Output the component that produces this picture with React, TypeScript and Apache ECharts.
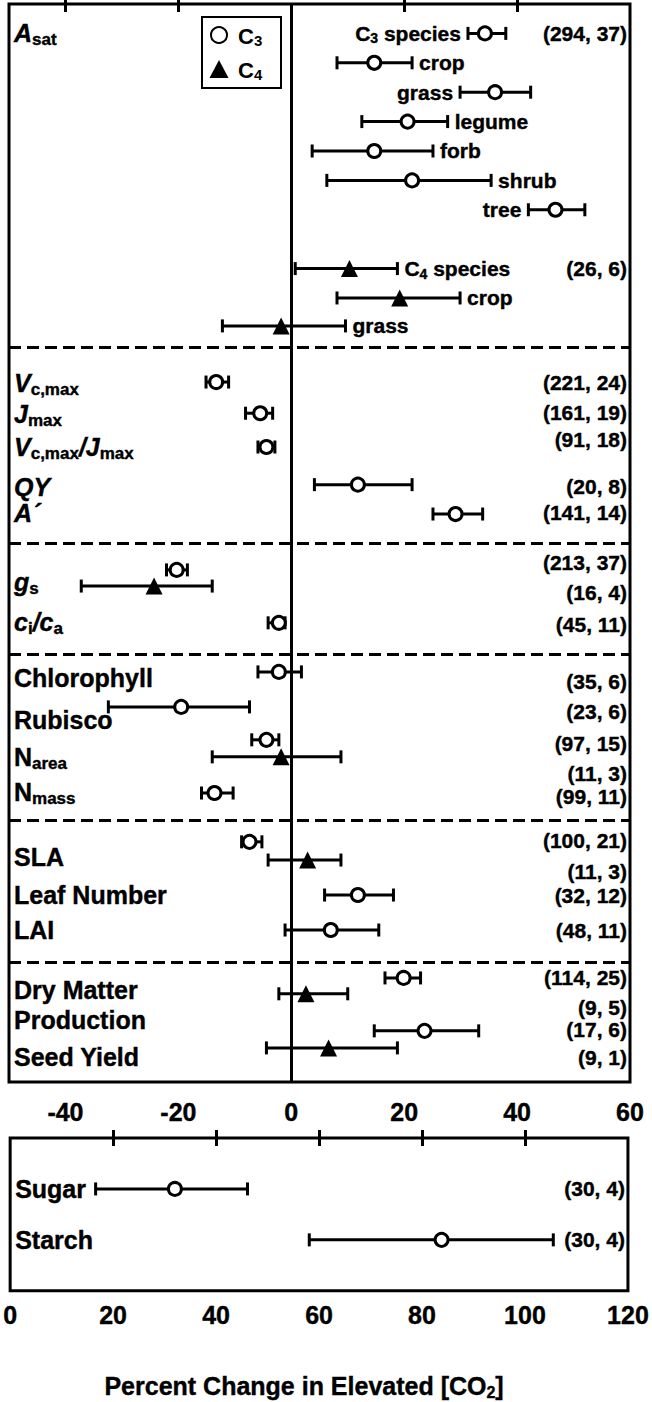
import React, { useEffect, useRef } from 'react';
import * as echarts from 'echarts';

const FONT = '"Liberation Sans", Arial, Helvetica, sans-serif';

// ---------- Top panel (x: percent change, y: row slot) ----------
const topPathway = ['C3','C3','C3','C3','C3','C3','C3','C4','C4','C4',
  'C3','C3','C3','C3','C3','C3','C4','C3','C3','C3','C3','C4','C3','C3','C4','C3','C3','C3','C4','C3','C4'];
const topMeans = [34.3, 14.7, 36.1, 20.6, 14.7, 21.4, 46.8, 10.3, 19.2, -1.8,
  -13.3, -5.5, -4.4, 11.8, 29.1, -20.3, -24.3, -2.2, -2.2, -19.5, -4.4, -1.8, -13.6,
  -7.4, 2.9, 11.8, 7.0, 19.9, 2.6, 23.6, 6.6];
const topLows = [31.3, 8.1, 29.9, 12.5, 3.7, 6.3, 42.0, 0.7, 8.1, -12.2,
  -15.1, -8.1, -5.9, 4.1, 25.1, -22.1, -37.2, -4.1, -5.9, -32.4, -7.0, -14.0, -15.9,
  -8.8, -4.1, 5.9, -1.1, 16.6, -2.2, 14.7, -4.4];
const topHighs = [38.0, 21.4, 42.4, 27.7, 25.1, 35.4, 52.0, 18.8, 29.9, 9.6,
  -11.1, -3.3, -2.9, 21.4, 33.9, -18.4, -14.0, -1.1, 1.8, -7.4, -2.2, 8.8, -10.3,
  -5.2, 8.8, 18.1, 15.5, 22.9, 10.0, 33.2, 18.8];
const topRows = [1, 2, 3, 4, 5, 6, 7, 9, 10, 10.95,
  12.86, 13.92, 15.07, 16.35, 17.35, 19.25, 19.8, 21.05, 22.72, 23.91, 25.03, 25.61, 26.84,
  28.5, 29.12, 30.31, 31.5, 33.13, 33.67, 34.93, 35.51];
const TOP_ROW_MAX = 36.67;

// inline group labels of the A_sat block (index into the arrays above)
const inlineIndex = [0, 1, 2, 3, 4, 5, 6, 7, 8, 9];
const inlineText = ['{n|C}{b|3}{n| species}', 'crop', 'grass', 'legume', 'forb', 'shrub', 'tree',
  '{n|C}{b|4}{n| species}', 'crop', 'grass'];
const inlineSide = ['left', 'right', 'left', 'right', 'right', 'right', 'left', 'right', 'right', 'right'];

// (n observations, n studies) labels on the right
const countText = ['(294, 37)', '(26, 6)', '(221, 24)', '(161, 19)', '(91, 18)', '(20, 8)', '(141, 14)',
  '(213, 37)', '(16, 4)', '(45, 11)', '(35, 6)', '(23, 6)', '(97, 15)', '(11, 3)', '(99, 11)',
  '(100, 21)', '(11, 3)', '(32, 12)', '(48, 11)', '(114, 25)', '(9, 5)', '(17, 6)', '(9, 1)'];
const countRow = [1, 9, 12.86, 13.88, 14.83, 16.4, 17.31, 19.01, 20.03, 21.12, 23.06, 24.08, 25.14,
  26.16, 26.97, 28.44, 29.52, 30.31, 31.5, 33.1, 34.12, 34.9, 35.82];

// variable labels on the left
const leftText = ['{i|A}{s|sat}', '{i|V}{s|c,max}', '{i|J}{s|max}', '{i|V}{s|c,max}{i|/J}{s|max}',
  '{i|QY}', '{i|A´}', '{i|g}{s|s}', '{i|c}{s|i}{i|/c}{s|a}', 'Chlorophyll', 'Rubisco',
  '{t|N}{s|area}', '{t|N}{s|mass}', 'SLA', 'Leaf Number', 'LAI', 'Dry Matter', 'Production', 'Seed Yield'];
const leftRow = [1.0, 12.9, 13.95, 15.07, 16.43, 17.31, 19.66, 21.02, 22.93, 24.35, 25.6, 26.8,
  29.0, 30.31, 31.5, 33.54, 34.56, 35.82];

// dashed section separators
const separatorRows = [11.67, 18.33, 22.11, 27.76, 32.59];

const topTickValues = [-40, -20, 20, 40];
const topLabelValues = [-40, -20, 0, 20, 40, 60];

// ---------- Bottom panel ----------
const bottomNames = ['Sugar', 'Starch'];
const bottomMeans = [32.0, 83.8];
const bottomLows = [16.6, 58.1];
const bottomHighs = [46.1, 105.5];
const bottomRows = [1, 2];
const bottomCounts = ['(30, 4)', '(30, 4)'];
const bottomTickValues = [20, 40, 60, 80, 100];

const CAP = 6.5;
const errorBarRender = (params: any, api: any) => {
  const y = api.value(3);
  const lo = api.coord([api.value(1), y]);
  const hi = api.coord([api.value(2), y]);
  const st = { stroke: '#000', lineWidth: 3 };
  return {
    type: 'group',
    children: [
      { type: 'line', shape: { x1: lo[0], y1: lo[1], x2: hi[0], y2: hi[1] }, style: st },
      { type: 'line', shape: { x1: lo[0], y1: lo[1] - CAP, x2: lo[0], y2: lo[1] + CAP }, style: st },
      { type: 'line', shape: { x1: hi[0], y1: hi[1] - CAP, x2: hi[0], y2: hi[1] + CAP }, style: st },
    ],
  };
};

const TB = { textBorderColor: '#000', textBorderWidth: 0.4 };
const leftRich = {
  i: { fontStyle: 'italic', fontWeight: 'bold', fontSize: 25, fontFamily: FONT, color: '#000', lineHeight: 30, ...TB },
  t: { fontWeight: 'bold', fontSize: 25, fontFamily: FONT, color: '#000', lineHeight: 30, ...TB },
  s: { fontWeight: 'bold', fontSize: 17, fontFamily: FONT, color: '#000', verticalAlign: 'bottom', lineHeight: 16, ...TB },
};
const inlineRich = {
  n: { fontWeight: 'bold', fontSize: 21, fontFamily: FONT, color: '#000', lineHeight: 24, ...TB },
  b: { fontWeight: 'bold', fontSize: 14, fontFamily: FONT, color: '#000', verticalAlign: 'bottom', lineHeight: 12, ...TB },
};
const legendRich = {
  n: { fontWeight: 'bold', fontSize: 22, fontFamily: FONT, fill: '#000', lineHeight: 24 },
  b: { fontWeight: 'bold', fontSize: 15, fontFamily: FONT, fill: '#000', verticalAlign: 'bottom', lineHeight: 12 },
};

export default function App() {
  const ref = useRef<HTMLDivElement>(null);
  useEffect(() => {
    const chart = echarts.init(ref.current!, null, { renderer: 'svg' });

    const topAll = topMeans.map((m, i) => [m, topLows[i], topHighs[i], topRows[i]]);
    const c3Pts = topMeans.map((m, i) => [m, topRows[i]]).filter((_, i) => topPathway[i] === 'C3');
    const c4Pts = topMeans.map((m, i) => [m, topRows[i]]).filter((_, i) => topPathway[i] === 'C4');

    const inlineData = inlineIndex.map((idx, k) => ({
      value: [inlineSide[k] === 'left' ? topLows[idx] : topHighs[idx], topRows[idx]],
      label: { position: inlineSide[k], formatter: inlineText[k] },
    }));

    const labelBase = { fontFamily: FONT, fontWeight: 'bold', color: '#000', ...TB };
    const solid = { opacity: 1 };

    const option: any = {
      animation: false,
      grid: [
        { left: 9, right: 22, top: 4, height: 1078, show: true, borderColor: '#000', borderWidth: 3, backgroundColor: 'transparent' },
        { left: 9, right: 22, top: 1138, height: 155, show: true, borderColor: '#000', borderWidth: 3, backgroundColor: 'transparent' },
      ],
      xAxis: [
        {
          gridIndex: 0, type: 'value', min: -50, max: 60, position: 'bottom',
          axisLine: { show: false }, splitLine: { show: false },
          axisTick: { show: true, inside: true, length: 8, customValues: topTickValues, lineStyle: { color: '#000', width: 3 } },
          axisLabel: { show: true, customValues: topLabelValues, margin: 17, fontSize: 25, ...labelBase },
        },
        {
          gridIndex: 0, type: 'value', min: -50, max: 60, position: 'top',
          axisLine: { show: false }, splitLine: { show: false },
          axisTick: { show: true, inside: true, length: 8, customValues: topTickValues, lineStyle: { color: '#000', width: 3 } },
          axisLabel: { show: false },
        },
        {
          gridIndex: 1, type: 'value', min: 0, max: 120, interval: 20, position: 'bottom',
          axisLine: { show: false }, splitLine: { show: false },
          axisTick: { show: true, inside: true, length: 8, customValues: bottomTickValues, lineStyle: { color: '#000', width: 3 } },
          axisLabel: { show: true, margin: 12, fontSize: 25, ...labelBase },
          name: '{n|Percent Change in Elevated [CO}{b|2}{n|]}',
          nameLocation: 'middle', nameGap: 80,
          nameTextStyle: {
            padding: [0, 30, 0, 0],
            rich: {
              n: { fontWeight: 'bold', fontSize: 25, fontFamily: FONT, color: '#000', lineHeight: 30, ...TB },
              b: { fontWeight: 'bold', fontSize: 16, fontFamily: FONT, color: '#000', verticalAlign: 'bottom', lineHeight: 16, ...TB },
            },
          },
        },
        {
          gridIndex: 1, type: 'value', min: 0, max: 120, interval: 20, position: 'top',
          axisLine: { show: false }, splitLine: { show: false },
          axisTick: { show: true, inside: true, length: 8, customValues: bottomTickValues, lineStyle: { color: '#000', width: 3 } },
          axisLabel: { show: false },
        },
      ],
      yAxis: [
        { gridIndex: 0, type: 'value', min: 0, max: TOP_ROW_MAX, inverse: true, show: false, splitLine: { show: false } },
        { gridIndex: 1, type: 'value', min: 0, max: 3, inverse: true, show: false, splitLine: { show: false } },
      ],
      graphic: [
        { type: 'rect', shape: { x: 202, y: 17, width: 79, height: 71 }, style: { fill: '#fff', stroke: '#000', lineWidth: 2 }, z: 10 },
        { type: 'circle', shape: { cx: 219, cy: 35, r: 8 }, style: { fill: '#fff', stroke: '#000', lineWidth: 2 }, z: 11 },
        { type: 'polygon', shape: { points: [[219, 60], [209.5, 78], [228.5, 78]] }, style: { fill: '#000' }, z: 11 },
        { type: 'text', x: 238, y: 36, z: 11, style: { text: '{n|C}{b|3}', rich: legendRich, verticalAlign: 'middle' } },
        { type: 'text', x: 238, y: 70, z: 11, style: { text: '{n|C}{b|4}', rich: legendRich, verticalAlign: 'middle' } },
      ],
      series: [
        {
          type: 'custom', name: 'errTop', xAxisIndex: 0, yAxisIndex: 0, silent: true,
          renderItem: errorBarRender, encode: { x: [1, 2], y: 3 }, data: topAll, z: 2,
        },
        {
          type: 'scatter', name: 'C3', xAxisIndex: 0, yAxisIndex: 0, silent: true,
          symbol: 'circle', symbolSize: 13, data: c3Pts, z: 4,
          itemStyle: { color: '#fff', borderColor: '#000', borderWidth: 3, opacity: 1 },
          markLine: {
            silent: true, symbol: ['none', 'none'], label: { show: false },
            data: [
              { xAxis: 0, lineStyle: { type: 'solid', color: '#000', width: 3, opacity: 1 } },
              ...separatorRows.map((r) => ({ yAxis: r, lineStyle: { type: [12, 6], color: '#000', width: 3, opacity: 1 } })),
            ],
          },
        },
        {
          type: 'scatter', name: 'C4', xAxisIndex: 0, yAxisIndex: 0, silent: true,
          symbol: 'triangle', symbolSize: 17, data: c4Pts, z: 4,
          itemStyle: { color: '#000', opacity: 1 },
        },
        {
          type: 'scatter', name: 'inline', xAxisIndex: 0, yAxisIndex: 0, silent: true,
          symbolSize: 0, data: inlineData, z: 5, itemStyle: solid,
          label: { show: true, distance: 7, rich: inlineRich, fontSize: 21, ...labelBase },
        },
        {
          type: 'scatter', name: 'counts', xAxisIndex: 0, yAxisIndex: 0, silent: true,
          symbolSize: 0, itemStyle: solid,
          data: countRow.map((r, i) => ({ value: [60, r], label: { formatter: countText[i] } })), z: 5,
          label: { show: true, position: 'left', distance: 3, fontSize: 21, ...labelBase },
        },
        {
          type: 'scatter', name: 'vars', xAxisIndex: 0, yAxisIndex: 0, silent: true,
          symbolSize: 0, itemStyle: solid,
          data: leftRow.map((r, i) => ({ value: [-50, r], label: { formatter: leftText[i] } })), z: 5,
          label: { show: true, position: 'right', distance: 5, fontSize: 25, lineHeight: 30, rich: leftRich, ...labelBase },
        },
        // bottom panel
        {
          type: 'custom', name: 'errBottom', xAxisIndex: 2, yAxisIndex: 1, silent: true,
          renderItem: errorBarRender, encode: { x: [1, 2], y: 3 },
          data: bottomMeans.map((m, i) => [m, bottomLows[i], bottomHighs[i], bottomRows[i]]), z: 2,
        },
        {
          type: 'scatter', name: 'C3b', xAxisIndex: 2, yAxisIndex: 1, silent: true,
          symbol: 'circle', symbolSize: 13, data: bottomMeans.map((m, i) => [m, bottomRows[i]]), z: 4,
          itemStyle: { color: '#fff', borderColor: '#000', borderWidth: 3, opacity: 1 },
        },
        {
          type: 'scatter', name: 'countsB', xAxisIndex: 2, yAxisIndex: 1, silent: true,
          symbolSize: 0, itemStyle: solid,
          data: bottomRows.map((r, i) => ({ value: [120, r], label: { formatter: bottomCounts[i] } })), z: 5,
          label: { show: true, position: 'left', distance: 3, fontSize: 21, ...labelBase },
        },
        {
          type: 'scatter', name: 'namesB', xAxisIndex: 2, yAxisIndex: 1, silent: true,
          symbolSize: 0, itemStyle: solid,
          data: bottomRows.map((r, i) => ({ value: [0, r], label: { formatter: bottomNames[i] } })), z: 5,
          label: { show: true, position: 'right', distance: 5, fontSize: 25, ...labelBase },
        },
      ],
    };
    chart.setOption(option);
    return () => chart.dispose();
  }, []);
  return <div ref={ref} style={{ position: 'absolute', left: 0, top: 0, width: 652, height: 1402, background: '#fff' }} />;
}
